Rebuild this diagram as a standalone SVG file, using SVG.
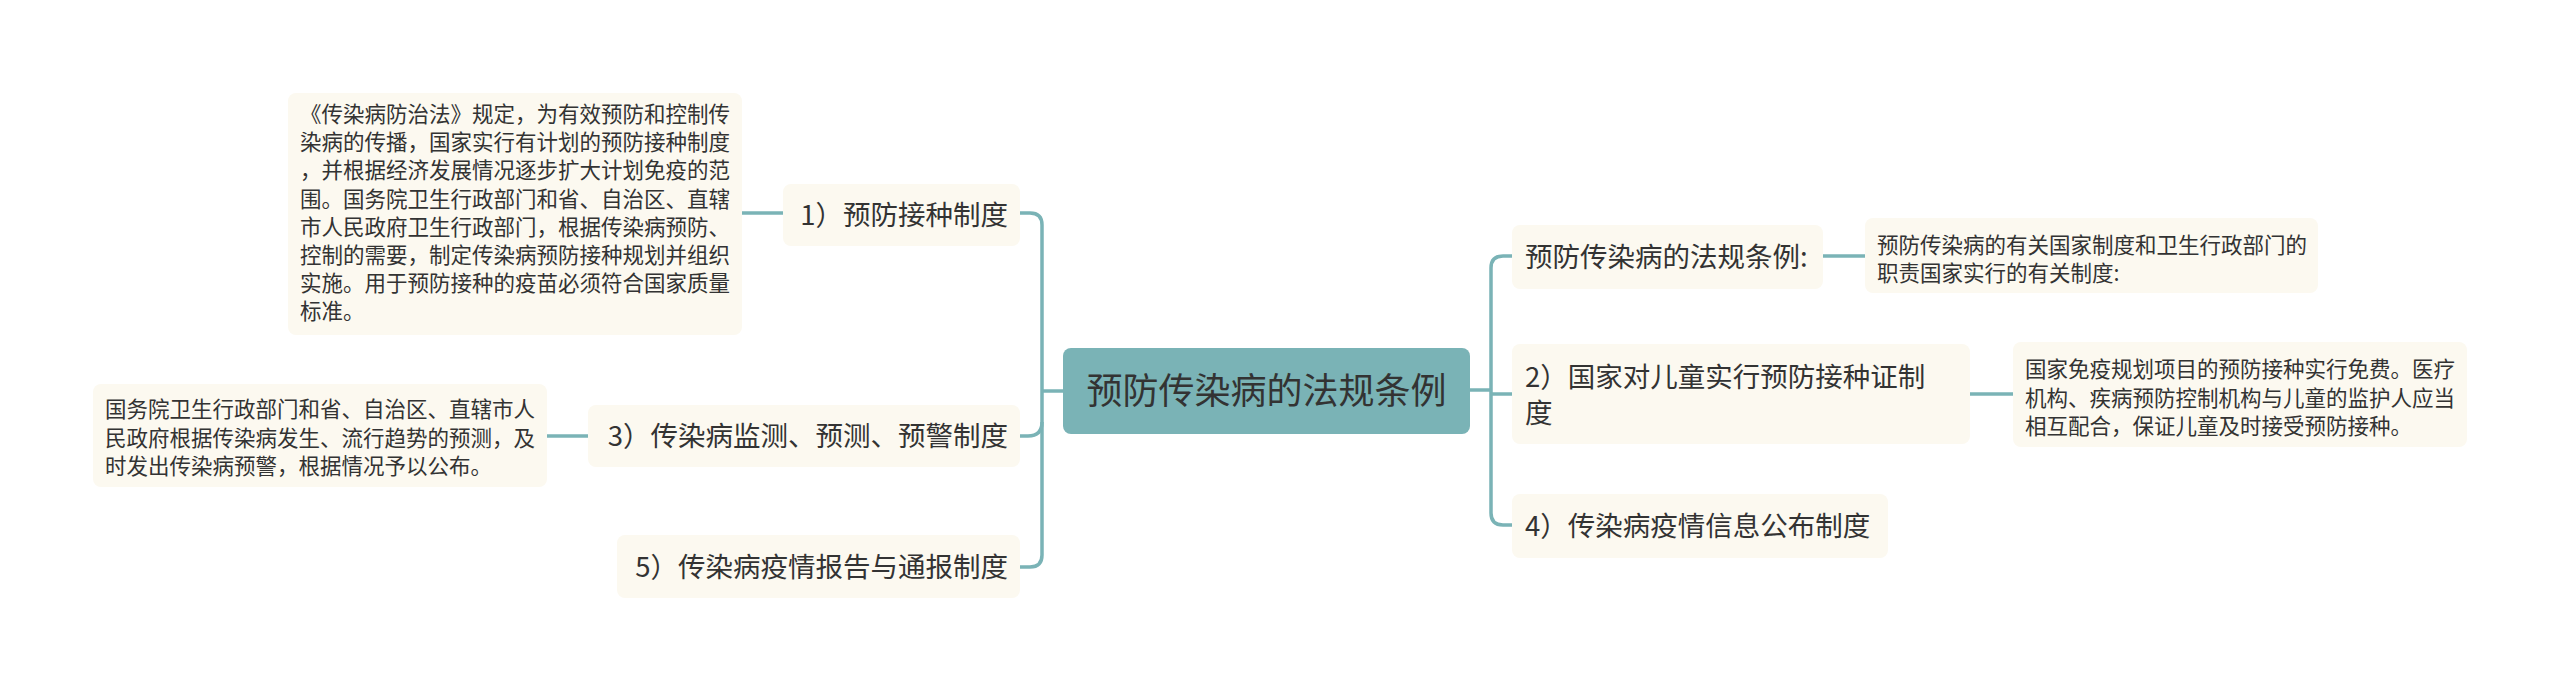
<svg xmlns="http://www.w3.org/2000/svg" width="2560" height="693" viewBox="0 0 2560 693">
<style>
.n{fill:#fcf9f0;}
.root{fill:#7ab3b6;}
.t{font-family:"Noto Sans CJK SC","Noto Sans",sans-serif;fill:#333333;}
.rt{font-size:36px;}
.bt{font-size:27.5px;}
.dt{font-size:21.5px;}
.c{fill:none;stroke:#7ab3b6;stroke-width:3.5;}
</style>
<rect width="2560" height="693" fill="#ffffff"/>
<g id="connectors">
<path class="c" d="M1063,391 H1042"/>
<path class="c" d="M1020,213 H1030 Q1042,213 1042,225 V555 Q1042,567 1030,567 H1020"/>
<path class="c" d="M1042,422 Q1042,436 1028,436 H1020"/>
<path class="c" d="M1470,390 H1491"/>
<path class="c" d="M1512,256 H1503 Q1491,256 1491,268 V513 Q1491,525 1503,525 H1512"/>
<path class="c" d="M1491,394 H1512"/>
<path class="c" d="M742,213 H783"/>
<path class="c" d="M547,436 H588"/>
<path class="c" d="M1823,256 H1865"/>
<path class="c" d="M1970,394 H2013"/>
</g>
<g id="root">
<rect class="root" x="1063" y="348" width="407" height="86" rx="8"/>
<text class="t rt" x="1266.5" y="404" text-anchor="middle">预防传染病的法规条例</text>
</g>
<g id="n1">
<rect class="n" x="783" y="184" width="237" height="62" rx="8"/>
<text class="t bt" x="1008" y="225" text-anchor="end">1）预防接种制度</text>
</g>
<g id="n3">
<rect class="n" x="588" y="405" width="432" height="62" rx="8"/>
<text class="t bt" x="1008" y="446" text-anchor="end">3）传染病监测、预测、预警制度</text>
</g>
<g id="n5">
<rect class="n" x="617" y="535" width="403" height="63" rx="8"/>
<text class="t bt" x="1008" y="577" text-anchor="end">5）传染病疫情报告与通报制度</text>
</g>
<g id="r1">
<rect class="n" x="1512" y="225" width="311" height="64" rx="8"/>
<text class="t bt" x="1525" y="267">预防传染病的法规条例:</text>
</g>
<g id="r2">
<rect class="n" x="1512" y="344" width="458" height="100" rx="8"/>
<text class="t bt" x="1525" y="387">2）国家对儿童实行预防接种证制</text>
<text class="t bt" x="1525" y="423">度</text>
</g>
<g id="r4">
<rect class="n" x="1512" y="494" width="376" height="64" rx="8"/>
<text class="t bt" x="1525" y="536">4）传染病疫情信息公布制度</text>
</g>
<g id="d1">
<rect class="n" x="288" y="93" width="454" height="242" rx="8"/>
<text class="t dt" x="300" y="122">《传染病防治法》规定，为有效预防和控制传</text>
<text class="t dt" x="300" y="150.2">染病的传播，国家实行有计划的预防接种制度</text>
<text class="t dt" x="300" y="178.4">，并根据经济发展情况逐步扩大计划免疫的范</text>
<text class="t dt" x="300" y="206.6">围。国务院卫生行政部门和省、自治区、直辖</text>
<text class="t dt" x="300" y="234.8">市人民政府卫生行政部门，根据传染病预防、</text>
<text class="t dt" x="300" y="263">控制的需要，制定传染病预防接种规划并组织</text>
<text class="t dt" x="300" y="291.2">实施。用于预防接种的疫苗必须符合国家质量</text>
<text class="t dt" x="300" y="319.4">标准。</text>
</g>
<g id="d2">
<rect class="n" x="93" y="384" width="454" height="103" rx="8"/>
<text class="t dt" x="105" y="417">国务院卫生行政部门和省、自治区、直辖市人</text>
<text class="t dt" x="105" y="445.5">民政府根据传染病发生、流行趋势的预测，及</text>
<text class="t dt" x="105" y="474">时发出传染病预警，根据情况予以公布。</text>
</g>
<g id="d3">
<rect class="n" x="1865" y="218" width="453" height="75" rx="8"/>
<text class="t dt" x="1877" y="253">预防传染病的有关国家制度和卫生行政部门的</text>
<text class="t dt" x="1877" y="280.5">职责国家实行的有关制度:</text>
</g>
<g id="d4">
<rect class="n" x="2013" y="342" width="454" height="105" rx="8"/>
<text class="t dt" x="2025" y="377">国家免疫规划项目的预防接种实行免费。医疗</text>
<text class="t dt" x="2025" y="405.5">机构、疾病预防控制机构与儿童的监护人应当</text>
<text class="t dt" x="2025" y="434">相互配合，保证儿童及时接受预防接种。</text>
</g>
</svg>
